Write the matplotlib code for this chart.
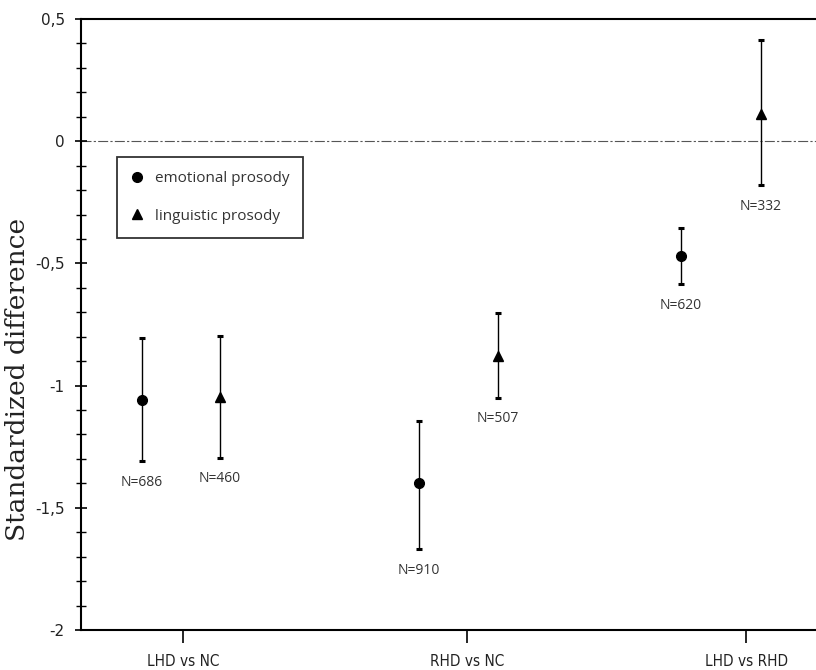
import matplotlib
matplotlib.use("Agg")
import matplotlib.pyplot as plt
from matplotlib.lines import Line2D

# group labels and x positions (arbitrary units, xlim 0..10)
groups = ["LHD vs NC", "RHD vs NC", "LHD vs RHD"]
group_x = [1.39, 5.25, 9.05]

# emotional prosody: effect size with CI bounds and sample size
emo_x = [0.83, 4.60, 8.16]
emo_mean = [-1.06, -1.40, -0.47]
emo_low = [-1.31, -1.67, -0.585]
emo_high = [-0.805, -1.145, -0.355]
emo_n = [686, 910, 620]

# linguistic prosody
ling_x = [1.89, 5.67, 9.25]
ling_mean = [-1.045, -0.88, 0.11]
ling_low = [-1.296, -1.05, -0.18]
ling_high = [-0.797, -0.703, 0.414]
ling_n = [460, 507, 332]

fig = plt.figure(figsize=(8.16, 6.7), dpi=100)
ax = fig.add_axes([0.0989, 0.0597, 0.9011, 0.9119])

ax.axhline(0, color="#555555", lw=0.8, ls=(0, (9, 2, 2, 2)), zorder=1)


def draw(xs, mean, low, high, ns, marker, ms):
    yerr = [[m - l for m, l in zip(mean, low)], [h - m for m, h in zip(mean, high)]]
    ax.errorbar(xs, mean, yerr=yerr, fmt=marker, color="black", ms=ms,
                ecolor="black", elinewidth=1.0, capsize=2.5, capthick=2.2, zorder=3)
    for x, l, n in zip(xs, low, ns):
        ax.annotate(f"N={n}", (x, l), xytext=(0, -15), textcoords="offset points",
                    ha="center", va="center", fontsize=10, color="#333333",
                    family="Open Sans")


draw(emo_x, emo_mean, emo_low, emo_high, emo_n, "o", 7)
draw(ling_x, ling_mean, ling_low, ling_high, ling_n, "^", 7.5)

ax.set_xlim(0, 10)
ax.set_ylim(-2, 0.5)
ax.set_xticks(group_x)
ax.set_xticklabels(groups, fontsize=11, family="DejaVu Sans", fontstretch="condensed",
                   color="#222222")
ax.set_yticks([-2, -1.5, -1, -0.5, 0, 0.5])
ax.set_yticklabels(["-2", "-1,5", "-1", "-0,5", "0", "0,5"], fontsize=11,
                   family="DejaVu Sans", color="#222222")
ax.set_yticks([v / 10 for v in range(-20, 6)], minor=True)
ax.tick_params(axis="y", which="major", direction="inout", length=9, width=1.2, pad=7)
ax.tick_params(axis="y", which="minor", direction="inout", length=7, width=1.0)
ax.tick_params(axis="x", which="major", direction="out", length=9.5, width=1.2, pad=8)

for side in ["left", "bottom", "top"]:
    ax.spines[side].set_linewidth(1.5)
ax.spines["right"].set_visible(False)

ax.set_ylabel("Standardized difference", family="DejaVu Serif", fontsize=19,
              color="#222222")
ax.yaxis.set_label_coords(-0.069, 0.41)

handles = [Line2D([], [], marker="o", ls="none", color="black", ms=7),
           Line2D([], [], marker="^", ls="none", color="black", ms=7.5)]
leg = ax.legend(handles, ["emotional prosody", "linguistic prosody"],
                loc="upper left", bbox_to_anchor=(0.049, 0.774), borderaxespad=0,
                frameon=True, fancybox=False, edgecolor="#333333", framealpha=1,
                handlelength=0.9, handletextpad=0.7, labelspacing=1.5,
                borderpad=0.9, prop={"family": "Open Sans", "size": 11})
leg.get_frame().set_linewidth(1.3)
for t in leg.get_texts():
    t.set_color("#333333")

fig.savefig("out.png", dpi=100)
